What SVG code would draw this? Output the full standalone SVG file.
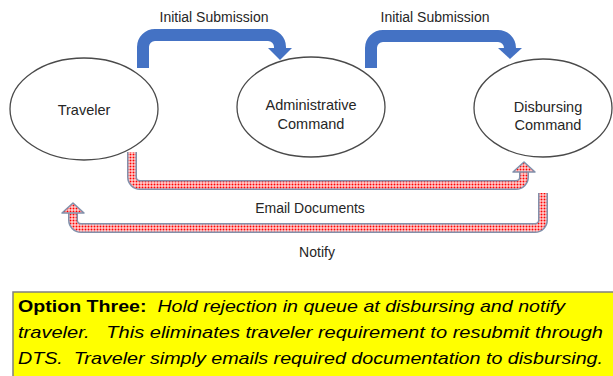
<svg xmlns="http://www.w3.org/2000/svg" width="613" height="376" viewBox="0 0 613 376">
  <defs>
    <pattern id="check" width="3" height="3" patternUnits="userSpaceOnUse">
      <rect width="3" height="3" fill="#ffffff"/>
      <rect x="0.5" y="0.5" width="2" height="2" fill="#ff0000"/>
    </pattern>
    <style>
      .node ellipse { fill: #ffffff; stroke: #4a4a4a; stroke-width: 1.3; }
      .label { font-family: "Liberation Sans", Arial, sans-serif; font-size: 14px; fill: #262626; text-anchor: middle; }
      .nodetext { font-family: "Liberation Sans", Arial, sans-serif; font-size: 14.5px; fill: #262626; text-anchor: middle; }
      .bent { fill: none; stroke: #4472c4; stroke-width: 12; }
      .bent-head { fill: #4472c4; }
      .chk-edge { fill: none; stroke: #8190ab; stroke-width: 10; }
      .chk-fill { fill: none; stroke: url(#check); stroke-width: 7; }
      .chk-head { fill: url(#check); stroke: #8190ab; stroke-width: 1.5; stroke-linejoin: round; }
      .note { font-family: "Liberation Sans", Arial, sans-serif; font-size: 17px; fill: #000000; }
    </style>
  </defs>

  <g id="connectors">
    <!-- Traveler to Administrative Command -->
    <path class="bent" d="M143,68 V47 A12,12 0 0 1 155,35 H268 A12,12 0 0 1 280,47 V49"/>
    <polygon class="bent-head" points="268,48 292,48 280,60"/>
    <!-- Administrative Command to Disbursing Command -->
    <path class="bent" d="M371,68 V48 A12,12 0 0 1 383,36 H498 A12,12 0 0 1 510,48 V49"/>
    <polygon class="bent-head" points="498,48 522,48 510,59"/>

    <!-- Email Documents: Traveler to Disbursing -->
    <path class="chk-edge" d="M132,152 V177 A8,8 0 0 0 140,185 H516 A8,8 0 0 0 524,177 V171"/>
    <path class="chk-fill" d="M132,152 V177 A8,8 0 0 0 140,185 H516 A8,8 0 0 0 524,177 V171"/>
    <polygon class="chk-head" points="513,172 535,172 524,162"/>

    <!-- Notify: Disbursing back to Traveler -->
    <path class="chk-edge" d="M543,193 V220 A8,8 0 0 1 535,228 H81 A8,8 0 0 1 73,220 V213"/>
    <path class="chk-fill" d="M543,193 V220 A8,8 0 0 1 535,228 H81 A8,8 0 0 1 73,220 V213"/>
    <polygon class="chk-head" points="62,213 84,213 73,203"/>

    <text class="label" x="214" y="22">Initial Submission</text>
    <text class="label" x="435" y="22">Initial Submission</text>
    <text class="label" x="310" y="213">Email Documents</text>
    <text class="label" x="317" y="257">Notify</text>
  </g>

  <g id="traveler" class="node">
    <ellipse cx="84" cy="109" rx="74" ry="51"/>
    <text class="nodetext" x="84" y="115">Traveler</text>
  </g>

  <g id="admin-command" class="node">
    <ellipse cx="311" cy="107" rx="74" ry="50"/>
    <text class="nodetext" x="311" y="110">Administrative</text>
    <text class="nodetext" x="311" y="129">Command</text>
  </g>

  <g id="disbursing-command" class="node">
    <ellipse cx="543" cy="108" rx="69" ry="49"/>
    <text class="nodetext" x="548" y="112">Disbursing</text>
    <text class="nodetext" x="548" y="130">Command</text>
  </g>

  <g id="option-note">
    <rect x="13" y="292" width="604" height="90" fill="#ffff00" stroke="#7f7f7f" stroke-width="1.5"/>
    <text class="note" x="18" y="312" textLength="547" lengthAdjust="spacingAndGlyphs"><tspan font-weight="bold">Option Three:</tspan><tspan font-style="italic" xml:space="preserve">  Hold rejection in queue at disbursing and notify</tspan></text>
    <text class="note" x="18" y="338" font-style="italic" textLength="585" lengthAdjust="spacingAndGlyphs" xml:space="preserve">traveler.   This eliminates traveler requirement to resubmit through</text>
    <text class="note" x="18" y="364" font-style="italic" textLength="585" lengthAdjust="spacingAndGlyphs" xml:space="preserve">DTS.  Traveler simply emails required documentation to disbursing.</text>
  </g>
</svg>
